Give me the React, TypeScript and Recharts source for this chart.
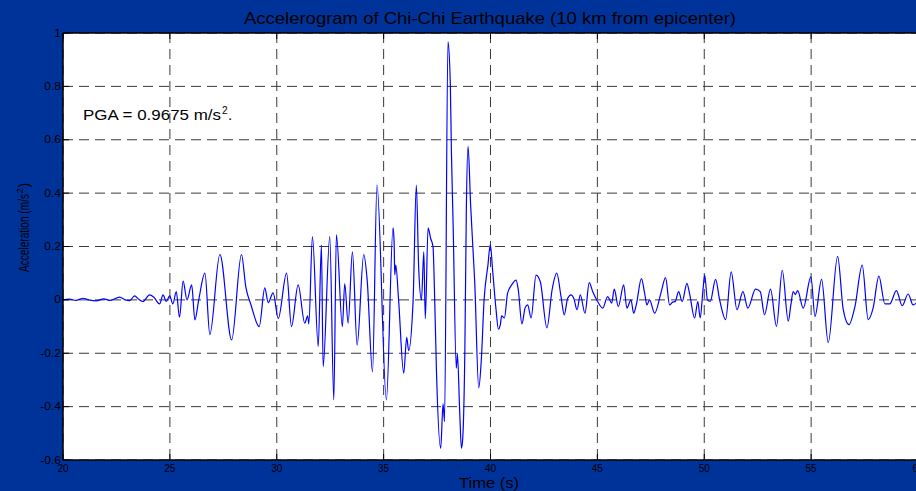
import React from 'react';
import { LineChart, Line, XAxis, YAxis, CartesianGrid } from 'recharts';

// Time (s)
const times = [
  20.0, 20.3, 20.6, 20.94, 21.2, 21.56, 21.9, 22.2, 22.65, 22.9, 23.12, 23.35, 23.55, 23.74,
  24.05, 24.25, 24.52, 24.68, 24.83, 24.99, 25.14, 25.3, 25.45, 25.62, 25.8, 26.02, 26.17,
  26.35, 26.64, 26.87, 27.34, 27.89, 28.35, 28.55, 28.8, 29.18, 29.44, 29.6, 29.83, 30.07,
  30.46, 30.69, 31.0, 31.31, 31.45, 31.5, 31.67, 31.94, 32.09, 32.17, 32.48, 32.67, 32.79,
  33.07, 33.18, 33.34, 33.54, 33.76, 34.07, 34.23, 34.48, 34.69, 35.13, 35.44, 35.49, 35.52,
  35.57, 35.7, 35.94, 36.08, 36.17, 36.38, 36.53, 36.64, 36.77, 36.88, 36.95, 37.08, 37.2,
  37.31, 37.39, 37.47, 37.67, 37.78, 37.85, 38.01, 38.12, 38.17, 38.25, 38.4, 38.45, 38.56,
  38.64, 38.7, 38.8, 38.87, 38.95, 39.07, 39.18, 39.26, 39.45, 39.57, 39.7, 39.88, 39.99,
  40.1, 40.26, 40.37, 40.46, 40.52, 40.65, 40.8, 40.99, 41.2, 41.3, 41.47, 41.62, 41.74,
  41.9, 42.13, 42.33, 42.64, 42.88, 43.1, 43.3, 43.45, 43.61, 43.77, 43.9, 44.05, 44.2,
  44.42, 44.62, 44.78, 45.01, 45.25, 45.48, 45.67, 45.79, 45.98, 46.23, 46.38, 46.57, 46.7,
  46.82, 47.06, 47.21, 47.32, 47.44, 47.68, 47.99, 48.19, 48.38, 48.5, 48.65, 48.8, 48.97,
  49.19, 49.31, 49.55, 49.7, 49.81, 49.94, 50.02, 50.15, 50.28, 50.53, 50.72, 51.0, 51.26,
  51.53, 51.81, 52.04, 52.4, 52.62, 52.82, 53.1, 53.38, 53.65, 53.93, 54.05, 54.16, 54.26,
  54.37, 54.63, 54.99, 55.18, 55.49, 55.8, 56.24, 56.5, 56.77, 57.05, 57.39, 57.67, 57.9,
  58.17, 58.45, 58.68, 58.99, 59.26, 59.54, 59.77, 60.0,
];

// Acceleration (m/s^2)
const accel = [
  0, 0.003, -0.002, 0.006, 0.0, -0.004, 0.004, -0.002, 0.01, 0.0, -0.003, 0.015, 0.002, -0.006,
  0.019, 0.01, -0.015, 0.019, -0.006, 0.015, -0.015, 0.031, -0.065, 0.07, 0.0, 0.056, -0.075,
  0.0, 0.1, -0.13, 0.17, -0.15, 0.17, 0.05, -0.02, -0.1, 0.045, -0.01, 0.026, -0.07,
  0.1, -0.1, 0.056, -0.087, -0.06, -0.09, 0.237, -0.175, 0.206, -0.25, 0.237, -0.375, 0.244,
  -0.1, 0.06, -0.087, 0.18, -0.17, 0.17, 0.075, -0.27, 0.43, -0.375, 0.27, 0.22, 0.094,
  0.13, 0.0, -0.275, -0.14, -0.19, 0.0, 0.43, 0.12, 0.0, 0.18, -0.07, 0.27, 0.23,
  0.2, 0.0, -0.26, -0.556, -0.39, -0.456, 0.9675, 0.81, 0.56, 0.29, -0.256, -0.2, -0.42,
  -0.556, -0.52, -0.19, 0.34, 0.575, 0.356, 0.19, 0.07, -0.33, -0.225, 0.0, 0.13, 0.207,
  0.11, -0.037, -0.11, -0.093, -0.06, -0.068, 0.025, 0.056, 0.074, 0.037, -0.09, -0.03, -0.019,
  -0.068, 0.093, 0.068, -0.105, 0.037, 0.1, 0.012, -0.056, 0.006, 0.019, 0.005, -0.037, 0.019,
  -0.05, 0.065, 0.031, -0.006, -0.031, 0.012, -0.012, 0.04, -0.025, 0.056, -0.031, 0.0, -0.05,
  -0.019, 0.08, 0.025, -0.019, 0.0, -0.05, 0.031, 0.083, -0.019, -0.01, -0.005, 0.031, -0.006,
  0.062, 0.025, -0.068, -0.006, -0.068, 0.037, 0.093, 0.0, -0.006, 0.077, 0.0, -0.074, 0.105,
  -0.037, 0.031, -0.031, 0.04, 0.031, -0.056, 0.04, -0.099, 0.111, -0.08, -0.02, 0.031, 0.02,
  0.035, -0.031, 0.086, -0.062, 0.077, -0.16, 0.163, -0.035, -0.093, -0.025, 0.13, -0.074, -0.031,
  0.089, -0.015, -0.015, 0.035, -0.022, 0.022, -0.019, -0.005,
];

const xTicks = [20, 25, 30, 35, 40, 45, 50, 55, 60];
const yTicks = [-0.6, -0.4, -0.2, 0, 0.2, 0.4, 0.6, 0.8, 1];
const yTickLabels = ['-0.6', '-0.4', '-0.2', '0', '0.2', '0.4', '0.6', '0.8', '1'];

const titleText = 'Accelerogram of Chi-Chi Earthquake (10 km from epicenter)';
const xLabelText = 'Time (s)';
const yLabelText = 'Acceleration (m/s';
const pgaText = 'PGA = 0.9675 m/s';

const data = times.map((t, i) => ({ t, a: accel[i] }));

const FONT = '"Liberation Sans", Arial, Helvetica, sans-serif';
const BG = '#003399';

const BottomTick = (props: any) => {
  const { x, y, payload } = props;
  return (
    <g>
      <line x1={x} y1={y} x2={x} y2={y - 6} stroke="#000" strokeWidth={1} />
      <text x={x} y={y + 12} textAnchor="middle" fontSize={10} fontFamily={FONT} fill="#000">
        {payload.value}
      </text>
    </g>
  );
};

const TopTick = (props: any) => {
  const { x, y } = props;
  return <line x1={x} y1={y} x2={x} y2={y + 6} stroke="#000" strokeWidth={1} />;
};

const LeftTick = (props: any) => {
  const { x, y, payload } = props;
  const idx = yTicks.indexOf(payload.value);
  return (
    <g>
      <line x1={x} y1={y} x2={x + 6} y2={y} stroke="#000" strokeWidth={1} />
      <g transform={`translate(${x - 2},${y + 3.5}) scale(1.2,1)`}>
        <text x={0} y={0} textAnchor="end" fontSize={10} fontFamily={FONT} fill="#000">
          {idx >= 0 ? yTickLabels[idx] : payload.value}
        </text>
      </g>
    </g>
  );
};

export default function App() {
  return (
    <div
      style={{
        position: 'fixed',
        left: 0,
        top: 0,
        width: 916,
        height: 491,
        overflow: 'hidden',
        background: BG,
      }}
    >
      <LineChart width={918} height={491} data={data} margin={{ top: 0, right: 0, bottom: 0, left: 0 }}>
        <CartesianGrid
          stroke="#3a3a3a"
          strokeDasharray="10 6"
          fill="#ffffff"
          fillOpacity={1}
        />
        <XAxis
          dataKey="t"
          type="number"
          domain={[20, 60]}
          ticks={xTicks}
          height={31}
          tickSize={0}
          tickMargin={0}
          axisLine={{ stroke: '#000', strokeWidth: 1.5 }}
          tickLine={false}
          tick={<BottomTick />}
          interval={0}
        />
        <XAxis
          xAxisId="top"
          orientation="top"
          dataKey="t"
          type="number"
          domain={[20, 60]}
          ticks={xTicks}
          height={33}
          tickSize={0}
          tickMargin={0}
          axisLine={{ stroke: '#000', strokeWidth: 1.5 }}
          tickLine={false}
          tick={<TopTick />}
          interval={0}
        />
        <YAxis
          type="number"
          domain={[-0.6, 1]}
          ticks={yTicks}
          width={63}
          tickSize={0}
          tickMargin={0}
          axisLine={{ stroke: '#000', strokeWidth: 1.5 }}
          tickLine={false}
          tick={<LeftTick />}
          interval={0}
        />
        <Line
          type="monotone"
          dataKey="a"
          stroke="#0000ff"
          strokeWidth={1.2}
          dot={false}
          isAnimationActive={false}
        />
      </LineChart>
      <svg
        width={916}
        height={491}
        style={{ position: 'absolute', left: 0, top: 0, pointerEvents: 'none' }}
      >
        <text
          x={490}
          y={24}
          textAnchor="middle"
          fontSize={17}
          fontFamily={FONT}
          fill="#000"
          textLength={492}
          lengthAdjust="spacingAndGlyphs"
        >
          {titleText}
        </text>
        <text
          x={489}
          y={488}
          textAnchor="middle"
          fontSize={15}
          fontFamily={FONT}
          fill="#000"
          textLength={60}
          lengthAdjust="spacingAndGlyphs"
        >
          {xLabelText}
        </text>
        <g transform="translate(29,272) rotate(-90)">
          <text x={0} y={0} fontSize={14} fontFamily={FONT} fill="#000" textLength={78} lengthAdjust="spacingAndGlyphs">
            {yLabelText}
          </text>
          <text x={78.5} y={-6} fontSize={9.5} fontFamily={FONT} fill="#000">2</text>
          <text x={84.5} y={0} fontSize={14} fontFamily={FONT} fill="#000">)</text>
        </g>
        <text
          x={83}
          y={120}
          fontSize={15.5}
          fontFamily={FONT}
          fill="#000"
          textLength={138}
          lengthAdjust="spacingAndGlyphs"
        >
          {pgaText}
        </text>
        <text x={222} y={114} fontSize={10} fontFamily={FONT} fill="#000">2</text>
        <text x={228} y={120} fontSize={15.5} fontFamily={FONT} fill="#000">.</text>
      </svg>
    </div>
  );
}
